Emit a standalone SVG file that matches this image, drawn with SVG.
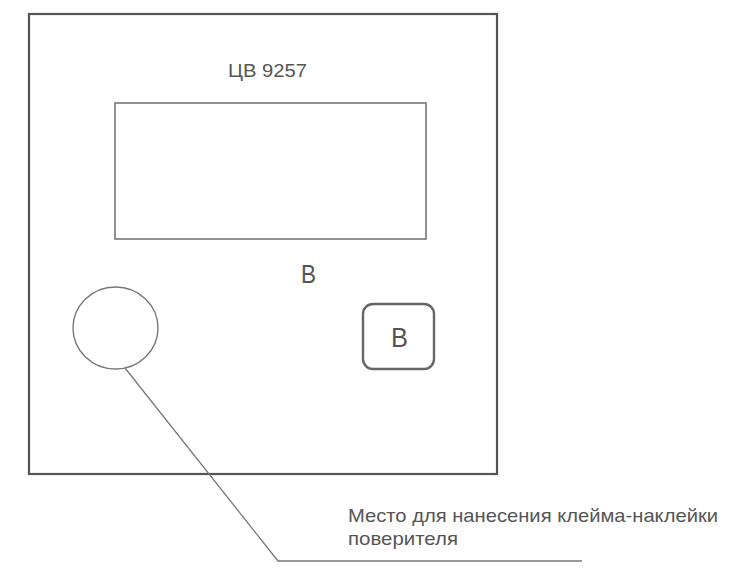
<svg xmlns="http://www.w3.org/2000/svg" width="742" height="582" viewBox="0 0 742 582">
<style>
.t{font-family:"Liberation Sans",Arial,sans-serif;fill:#555}
.ln{fill:none;stroke:#777}
</style>
<rect width="742" height="582" fill="#fff"/>
<g id="panel">
<rect x="29" y="14" width="468" height="460" fill="none" stroke="#555" stroke-width="2.2"/>
</g>
<g id="title"><text class="t" x="228" y="77" font-size="19" textLength="79" lengthAdjust="spacingAndGlyphs">ЦВ 9257</text></g>
<g id="display"><rect class="ln" x="115" y="103" width="311" height="136" stroke-width="1.6"/></g>
<g id="label-v"><text class="t" x="308.5" y="283" font-size="26" text-anchor="middle" textLength="15" lengthAdjust="spacingAndGlyphs">В</text></g>
<g id="button">
<rect x="363" y="304" width="71" height="65" rx="10" fill="none" stroke="#666" stroke-width="2.4"/>
<text class="t" x="399.5" y="347" font-size="27" text-anchor="middle" textLength="17" lengthAdjust="spacingAndGlyphs">В</text>
</g>
<g id="seal"><ellipse class="ln" cx="115.5" cy="328" rx="42.5" ry="41" stroke-width="1.4"/></g>
<g id="connectors">
<polyline class="ln" points="125,368 278,561 582,561" stroke-width="1.3"/>
</g>
<g id="caption">
<text class="t" x="348" y="522" font-size="19" textLength="370" lengthAdjust="spacingAndGlyphs">Место для нанесения клейма-наклейки</text>
<text class="t" x="348" y="545" font-size="19" textLength="110" lengthAdjust="spacingAndGlyphs">поверителя</text>
</g>
</svg>
